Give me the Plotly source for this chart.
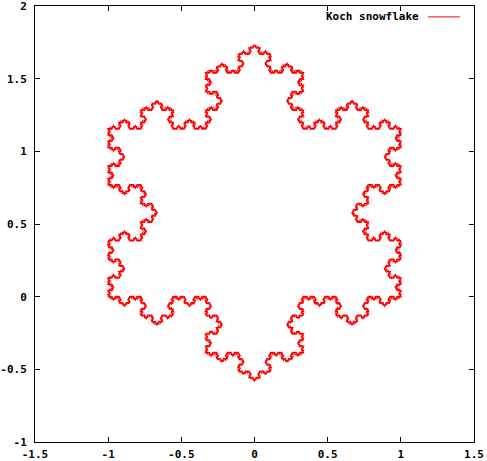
import numpy as np
import plotly.graph_objects as go

# Base triangle of the Koch snowflake (closed, counter-clockwise so bumps point outward)
base_x = [-1.0, 1.0, 0.0, -1.0]
base_y = [0.0, 0.0, 1.7320508075688772, 0.0]
depth = 5

x_ticks = [-1.5, -1, -0.5, 0, 0.5, 1, 1.5]
y_ticks = [-1, -0.5, 0, 0.5, 1, 1.5, 2]
x_labels = ["-1.5", "-1", "-0.5", "0", "0.5", "1", "1.5"]
y_labels = ["-1", "-0.5", "0", "0.5", "1", "1.5", "2"]


def koch(px, py, n):
    pts = np.array(list(zip(px, py)), dtype=float)
    for _ in range(n):
        new = [pts[0]]
        for a, b in zip(pts[:-1], pts[1:]):
            d = (b - a) / 3.0
            p1 = a + d
            p3 = a + 2 * d
            ang = np.pi / 3
            rot = np.array([d[0] * np.cos(ang) + d[1] * np.sin(ang),
                            -d[0] * np.sin(ang) + d[1] * np.cos(ang)])
            p2 = p1 + rot
            new.extend([p1, p2, p3, b])
        pts = np.array(new)
    return pts[:, 0], pts[:, 1]


kx, ky = koch(base_x, base_y, depth)

fig = go.Figure()
fig.add_trace(go.Scatter(x=kx, y=ky, mode="lines",
                         line=dict(color="#ff0000", width=1.6),
                         name="Koch snowflake", showlegend=False, hoverinfo="skip"))

font = dict(family="DejaVu Sans Mono", size=11, color="black", weight="bold")
axis_common = dict(showgrid=False, zeroline=False, showline=True, linecolor="black",
                   linewidth=1, mirror="ticks", ticks="inside", ticklen=5,
                   tickcolor="black", tickfont=font, automargin=False,
                   ticklabeloverflow="allow")
fig.update_xaxes(range=[-1.5, 1.5], tickvals=x_ticks, ticktext=x_labels,
                 ticklabelstandoff=2, **axis_common)
fig.update_yaxes(range=[-1, 2], tickvals=y_ticks, ticktext=y_labels,
                 ticklabelstandoff=5, **axis_common)

fig.add_annotation(x=0.88, y=0.975, xref="paper", yref="paper", text="Koch snowflake",
                   showarrow=False, xanchor="right", yanchor="middle", font=font)
fig.add_shape(type="line", xref="paper", yref="paper", x0=0.895, x1=0.968,
              y0=0.975, y1=0.975, line=dict(color="#ff0000", width=1))

fig.update_layout(width=487, height=461, paper_bgcolor="white", plot_bgcolor="white",
                  margin=dict(l=35, r=13, t=6, b=19), showlegend=False)
fig.write_html("out.html", config={"displayModeBar": False},
               post_script="document.body.style.margin='0';document.body.style.padding='0';"
                           "document.body.style.overflow='hidden';")
